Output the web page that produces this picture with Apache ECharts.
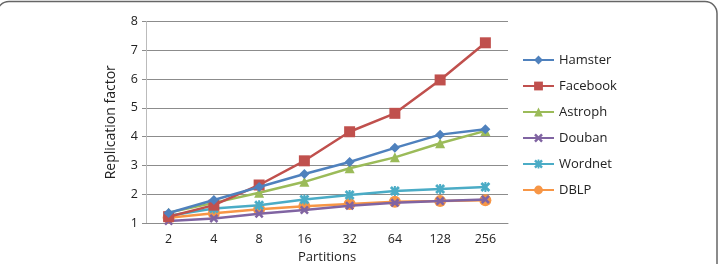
<!DOCTYPE html>
<html>
<head>
<meta charset="utf-8">
<script src="https://cdn.jsdelivr.net/npm/echarts@6/dist/echarts.min.js"></script>
<style>
  html, body { margin: 0; padding: 0; background: #fff; }
  #chart { width: 721px; height: 264px; }
</style>
</head>
<body>
<div id="chart"></div>
<script>
var partitions = ['2', '4', '8', '16', '32', '64', '128', '256'];
var yTicks = [1, 2, 3, 4, 5, 6, 7, 8];

var hamster  = [1.35, 1.80, 2.25, 2.70, 3.12, 3.61, 4.07, 4.26];
var facebook = [1.22, 1.62, 2.32, 3.16, 4.17, 4.81, 5.97, 7.26];
var astroph  = [1.36, 1.70, 2.05, 2.43, 2.90, 3.28, 3.77, 4.20];
var douban   = [1.07, 1.16, 1.32, 1.45, 1.60, 1.70, 1.76, 1.82];
var wordnet  = [1.25, 1.50, 1.62, 1.82, 1.97, 2.11, 2.18, 2.25];
var dblp     = [1.18, 1.34, 1.48, 1.58, 1.66, 1.74, 1.76, 1.79];

var names  = ['Hamster', 'Facebook', 'Astroph', 'Douban', 'Wordnet', 'DBLP'];
var colors = ['#4F81BD', '#C0504D', '#9BBB59', '#8064A2', '#4BACC6', '#F79646'];

// marker shapes like the old excel defaults
var xMark = 'path://M2,0 L5,3 L8,0 L10,2 L7,5 L10,8 L8,10 L5,7 L2,10 L0,8 L3,5 L0,2 Z';
var starMark = 'path://M2,0 L5,3 L8,0 L10,2 L7,5 L10,8 L8,10 L5,7 L2,10 L0,8 L3,5 L0,2 Z M4,0 L6,0 L6,10 L4,10 Z';
var symbols = ['diamond', 'rect', 'triangle', xMark, starMark, 'circle'];
var sizes = [10, 11, 10, 9, 10, 12];
var data = [hamster, facebook, astroph, douban, wordnet, dblp];

var font = 'Open Sans';
var chart = echarts.init(document.getElementById('chart'));

var series = [];
for (let i = 0; i < names.length; i++) {
  series.push({
    name: names[i],
    type: 'line',
    data: data[i],
    symbol: symbols[i],
    symbolSize: sizes[i],
    showAllSymbol: true,
    itemStyle: { color: colors[i] },
    lineStyle: { color: colors[i], width: 2.5 },
    z: 10 - i
  });
}

chart.setOption({
  animation: false,
  backgroundColor: '#fff',
  textStyle: { fontFamily: font },
  grid: { left: 146, right: 213, top: 21.5, bottom: 41, outerBoundsMode: 'none', containLabel: false },
  legend: {
    orient: 'vertical',
    left: 517,
    top: 48.5,
    itemGap: 13,
    itemWidth: 31,
    itemHeight: 11,
    textStyle: { fontFamily: font, fontSize: 13, color: '#222' },
    data: names
  },
  xAxis: {
    type: 'category',
    data: partitions,
    name: 'Partitions',
    nameLocation: 'middle',
    nameGap: 27,
    nameTextStyle: { fontFamily: font, fontSize: 13, color: '#222' },
    axisLine: { lineStyle: { color: '#8c8c8c', width: 1 } },
    axisTick: { show: false },
    axisLabel: { color: '#222', fontSize: 12.5, margin: 10 }
  },
  yAxis: {
    type: 'value',
    min: 1,
    max: 8,
    interval: 1,
    name: 'Replication factor',
    nameLocation: 'middle',
    nameGap: 28,
    nameTextStyle: { fontFamily: font, fontSize: 14, color: '#222' },
    axisLine: { show: true, lineStyle: { color: '#bbb', width: 1 } },
    axisTick: { show: true, length: 4, lineStyle: { color: '#8c8c8c' } },
    axisLabel: {
      color: '#222', fontSize: 12.5, margin: 8,
      formatter: function (v) { return yTicks.indexOf(v) >= 0 ? String(v) : ''; }
    },
    splitLine: { lineStyle: { color: '#8c8c8c', width: 1 } }
  },
  graphic: [{
    type: 'rect',
    shape: { x: -3, y: 1.5, width: 720, height: 320, r: 12 },
    style: { fill: 'none', stroke: '#666', lineWidth: 1.5 },
    silent: true
  }],
  series: series
});
</script>
</body>
</html>
